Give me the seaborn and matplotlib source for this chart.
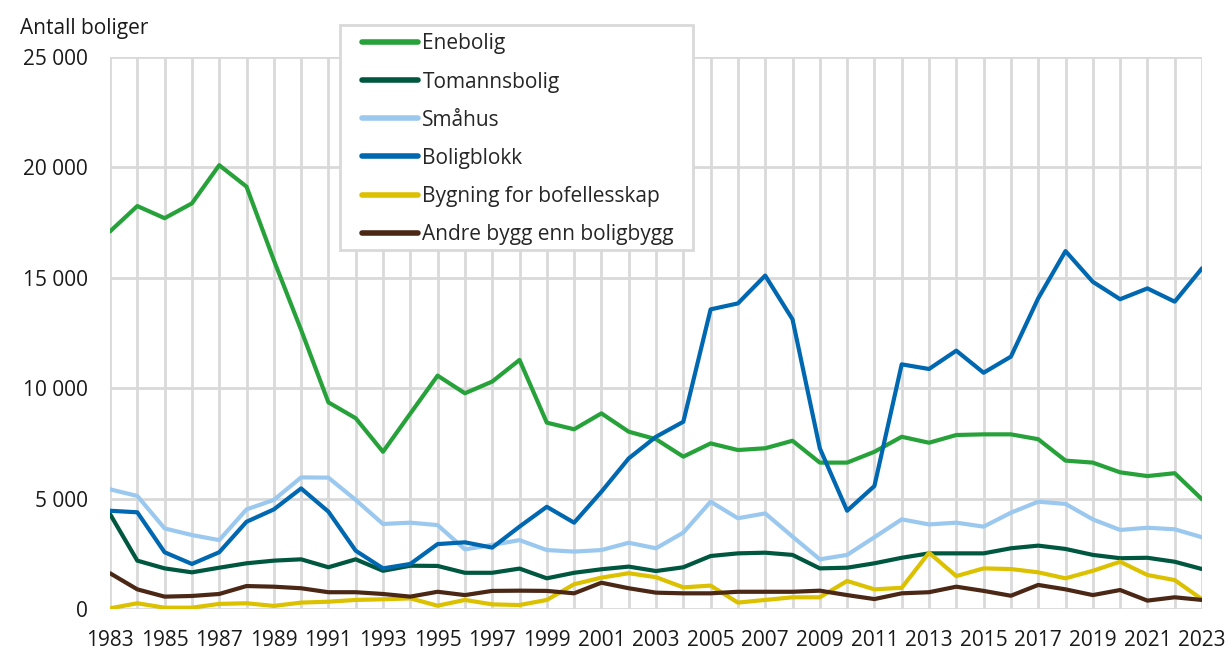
import pandas as pd
import seaborn as sns
import matplotlib.pyplot as plt
from matplotlib.patches import Rectangle
from matplotlib.ticker import FuncFormatter, MultipleLocator

# Data
years = list(range(1983, 2024))

enebolig = [17100, 18250, 17700, 18370, 20100, 19130, 15800, 12640, 9360, 8640,
            7120, 8850, 10570, 9770, 10300, 11280, 8440, 8140, 8860, 8030,
            7690, 6900, 7500, 7200, 7280, 7620, 6630, 6630, 7120, 7800,
            7530, 7880, 7910, 7910, 7690, 6720, 6630, 6190, 6020, 6150, 4970]

tomannsbolig = [4300, 2190, 1840, 1660, 1870, 2070, 2190, 2250, 1890, 2250,
                1730, 1960, 1950, 1640, 1640, 1830, 1390, 1640, 1800, 1920,
                1720, 1890, 2400, 2520, 2550, 2450, 1840, 1870, 2070, 2320,
                2520, 2520, 2520, 2750, 2870, 2720, 2450, 2300, 2320, 2140, 1810]

smahus = [5420, 5120, 3650, 3350, 3120, 4510, 4940, 5960, 5950, 4940,
          3850, 3910, 3800, 2700, 2900, 3120, 2670, 2600, 2670, 3000,
          2750, 3460, 4860, 4110, 4330, 3280, 2250, 2450, 3250, 4060,
          3830, 3910, 3730, 4360, 4860, 4760, 4060, 3580, 3680, 3610, 3250]

boligblokk = [4450, 4380, 2570, 2040, 2570, 3950, 4510, 5460, 4410, 2640,
              1840, 2040, 2940, 3020, 2780, 3730, 4630, 3910, 5310, 6820,
              7800, 8480, 13570, 13840, 15100, 13120, 7280, 4450, 5570, 11080,
              10870, 11700, 10700, 11430, 14070, 16210, 14820, 14030, 14520, 13920, 15430]

bofellesskap = [30, 260, 60, 60, 230, 260, 140, 290, 330, 410,
                440, 480, 150, 410, 210, 180, 410, 1120, 1420, 1620,
                1440, 980, 1060, 290, 410, 530, 530, 1270, 890, 960,
                2550, 1490, 1840, 1810, 1660, 1390, 1730, 2140, 1540, 1310, 440]

andre_bygg = [1620, 890, 560, 590, 680, 1040, 1010, 940, 760, 760,
              680, 560, 780, 630, 820, 830, 820, 710, 1190, 940,
              740, 710, 710, 780, 780, 780, 830, 630, 450, 710,
              760, 1010, 820, 600, 1090, 890, 630, 860, 380, 530, 410]

series_names = ['Enebolig', 'Tomannsbolig', 'Småhus', 'Boligblokk',
                'Bygning for bofellesskap', 'Andre bygg enn boligbygg']
series_values = [enebolig, tomannsbolig, smahus, boligblokk, bofellesskap, andre_bygg]
colors = ['#27A23A', '#00573F', '#9BC8EE', '#0068B0', '#DCC100', '#4B2816']

# Long-form table for seaborn
df = pd.concat([pd.DataFrame({'år': years, 'antall': vals, 'type': name})
                for name, vals in zip(series_names, series_values)],
               ignore_index=True)

# Plot setup
sns.set_theme(style="white")
plt.rcParams['font.family'] = ['Open Sans', 'DejaVu Sans']

W, H = 1232, 652
fig = plt.figure(figsize=(W / 100, H / 100), dpi=100, facecolor='white')
ax = fig.add_axes([110 / W, 1 - 609 / H, 1092 / W, 552 / H])

sns.lineplot(data=df, x='år', y='antall', hue='type', hue_order=series_names,
             palette=colors, linewidth=3, ax=ax, legend=True)

# Axes and grid
ax.set_xlim(1983, 2023)
ax.set_ylim(0, 25000)
ax.set_xticks(years, minor=True)
ax.set_xticks(years[::2])
ax.yaxis.set_major_locator(MultipleLocator(5000))
ax.yaxis.set_major_formatter(FuncFormatter(lambda v, p: f"{v:,.0f}".replace(",", " ")))
ax.grid(True, which='both', axis='x', color='#D9D9D9', linewidth=2)
ax.grid(True, which='major', axis='y', color='#D9D9D9', linewidth=2)
ax.set_axisbelow(True)
for s in ax.spines.values():
    s.set_visible(False)
ax.tick_params(axis='both', which='both', length=0, labelsize=15, colors='#1a1a1a')
ax.tick_params(axis='y', pad=16)
ax.tick_params(axis='x', pad=15)
ax.set_xlabel('')
ax.set_ylabel('')

fig.text(20 / W, 1 - 18 / H, 'Antall boliger', fontsize=15, color='#1a1a1a',
         ha='left', va='top')

# Legend box (white with grey border) drawn over the plot
fig.patches.append(Rectangle((340 / W, 1 - 250 / H), 353 / W, 225 / H,
                             transform=fig.transFigure, facecolor='white',
                             edgecolor='#D9D9D9', linewidth=2, zorder=2))

handles, labels = ax.get_legend_handles_labels()
ax.get_legend().remove()
leg = fig.legend(handles, labels, loc='upper left',
                 bbox_to_anchor=(362 / W, 1 - 33.5 / H),
                 fontsize=15, frameon=False,
                 handlelength=2.7, handletextpad=0.2, labelspacing=0.82,
                 borderpad=0, borderaxespad=0)
leg.set_zorder(5)
for line in leg.get_lines():
    line.set_linewidth(4)
    line.set_solid_capstyle('round')

plt.savefig('out.png', dpi=100, facecolor='white')
